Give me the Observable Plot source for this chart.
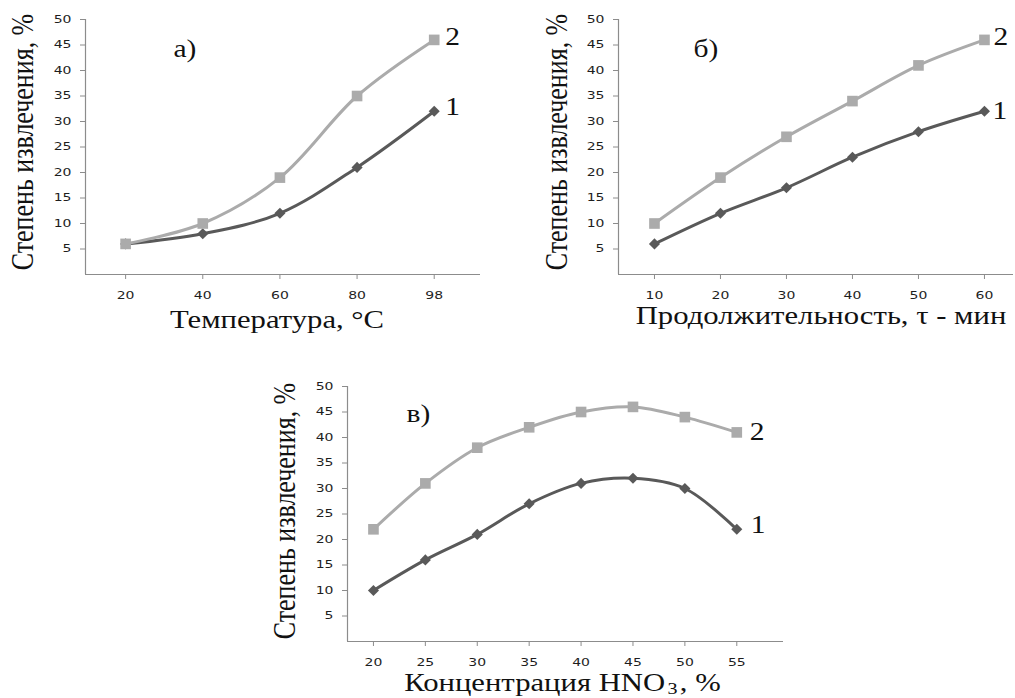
<!DOCTYPE html>
<html>
<head>
<meta charset="utf-8">
<script src="https://cdn.jsdelivr.net/npm/d3@7"></script>
<script src="https://cdn.jsdelivr.net/npm/@observablehq/plot@0.6"></script>
<style>
  html, body { margin: 0; padding: 0; background: #fff; }
  #wrap { position: relative; width: 1015px; height: 698px; overflow: hidden; background: #fff; }
  .panel { position: absolute; }
</style>
</head>
<body>
<div id="wrap">
  <div class="panel" id="pa" style="left:0px;top:0px"></div>
  <div class="panel" id="pb" style="left:500px;top:0px"></div>
  <div class="panel" id="pc" style="left:260px;top:370px"></div>
</div>
<script>
// ---- data ----
const tempCats = ["20", "40", "60", "80", "98"];
const tempS1 = [6, 8, 12, 21, 32];
const tempS2 = [6, 10, 19, 35, 46];

const timeCats = ["10", "20", "30", "40", "50", "60"];
const timeS1 = [6, 12, 17, 23, 28, 32];
const timeS2 = [10, 19, 27, 34, 41, 46];

const concCats = ["20", "25", "30", "35", "40", "45", "50", "55"];
const concS1 = [10, 16, 21, 27, 31, 32, 30, 22];
const concS2 = [22, 31, 38, 42, 45, 46, 44, 41];

const yTicks = [5, 10, 15, 20, 25, 30, 35, 40, 45, 50];
const seriesNames = ["1", "2"];
const panelLetters = ["а)", "б)", "в)"];
const yTitle = "Степень извлечения, %";
const xTitles = ["Температура, °С", "Продолжительность, τ - мин", "Концентрация HNO3, %"];

// ---- styles ----
const DARK = "#595959";
const LIGHT = "#ababab";
const AXIS = "#8c8c8c";
const SERIF = "Liberation Serif, Times New Roman, serif";
const SANS = "DejaVu Sans, Verdana, sans-serif";

function panel(cfg) {
  const rows = cfg.cats.map((c, i) => ({i, cat: c, s1: cfg.s1[i], s2: cfg.s2[i]}));
  const last = rows[rows.length - 1];
  const serifText = {fontFamily: SERIF, fill: "#111"};
  return Plot.plot({
    width: cfg.width,
    height: cfg.height,
    marginLeft: cfg.ml,
    marginRight: cfg.mr,
    marginTop: cfg.mt,
    marginBottom: cfg.mb,
    x: {type: "linear", domain: cfg.xDomain},
    y: {domain: [0, 50]},
    style: {background: "transparent", overflow: "visible", color: "#1e1e1e"},
    marks: [
      Plot.ruleY([0], {stroke: AXIS, strokeWidth: 1.2}),
      Plot.ruleX([cfg.xDomain[0]], {stroke: AXIS, strokeWidth: 1.2}),
      Plot.axisY({ticks: yTicks, tickSize: 5, tickPadding: 9, stroke: AXIS, fontSize: 10, fontFamily: SANS, label: null}),
      Plot.axisX({ticks: d3.range(cfg.cats.length), tickFormat: i => cfg.cats[i], tickSize: 5, tickPadding: 12,
                  stroke: AXIS, fontSize: 10, fontFamily: SANS, label: null}),
      Plot.line(rows, {x: "i", y: "s1", stroke: DARK, strokeWidth: 3, curve: "catmull-rom"}),
      Plot.dot(rows, {x: "i", y: "s1", symbol: "diamond2", r: 5, fill: DARK, stroke: null}),
      Plot.line(rows, {x: "i", y: "s2", stroke: LIGHT, strokeWidth: 3, curve: "catmull-rom"}),
      Plot.dot(rows, {x: "i", y: "s2", symbol: "square", r: 6, fill: LIGHT, stroke: null}),
      Plot.text([last], {x: "i", y: "s1", text: () => seriesNames[0], textAnchor: "start", lineAnchor: "middle",
                         dx: cfg.n1[0], dy: cfg.n1[1], fontSize: 25, ...serifText}),
      Plot.text([last], {x: "i", y: "s2", text: () => seriesNames[1], textAnchor: "start", lineAnchor: "middle",
                         dx: cfg.n2[0], dy: cfg.n2[1], fontSize: 25, ...serifText}),
      Plot.text([cfg.letter], {text: d => d, frameAnchor: "top-left", textAnchor: "start", lineAnchor: "middle",
                               dx: cfg.letterPos[0], dy: cfg.letterPos[1], fontSize: 25, ...serifText}),
      Plot.text([yTitle], {text: d => d, frameAnchor: "left", rotate: -90, textAnchor: "middle", lineAnchor: "middle",
                           dx: cfg.yTitlePos[0], dy: cfg.yTitlePos[1], fontSize: 26, ...serifText}),
      Plot.text([cfg.xTitle], {text: d => d, frameAnchor: "bottom", textAnchor: "middle", lineAnchor: "bottom",
                               dx: cfg.xTitlePos[0], dy: cfg.xTitlePos[1], fontSize: 26, ...serifText})
    ]
  });
}

document.getElementById("pa").appendChild(panel({
  cats: tempCats, s1: tempS1, s2: tempS2,
  width: 500, height: 340, ml: 85, mr: 20, mt: 19, mb: 66,
  xDomain: [-0.52, 4.6],
  n1: [11, -4], n2: [11, -3],
  letter: panelLetters[0], letterPos: [88, 29],
  yTitlePos: [-62, -5], xTitle: xTitles[0], xTitlePos: [-6, 53]
}));

document.getElementById("pb").appendChild(panel({
  cats: timeCats, s1: timeS1, s2: timeS2,
  width: 515, height: 340, ml: 118, mr: 2, mt: 19, mb: 66,
  xDomain: [-0.545, 5.44],
  n1: [8, 0], n2: [9, -3],
  letter: panelLetters[1], letterPos: [75, 29],
  yTitlePos: [-61, -5], xTitle: xTitles[1], xTitlePos: [5, 49]
}));

document.getElementById("pc").appendChild(panel({
  cats: concCats, s1: concS1, s2: concS2,
  width: 560, height: 328, ml: 87, mr: 37, mt: 16, mb: 57,
  xDomain: [-0.5, 7.9],
  n1: [14, -4], n2: [13, 0],
  letter: panelLetters[2], letterPos: [59, 27],
  yTitlePos: [-62, -3], xTitle: xTitles[2], xTitlePos: [-3, 49]
}));

// subscript in HNO3
document.querySelectorAll("svg text").forEach(t => {
  if (t.textContent === xTitles[2]) {
    const ns = "http://www.w3.org/2000/svg";
    t.textContent = "";
    const a = document.createElementNS(ns, "tspan"); a.textContent = "Концентрация HNO";
    const b = document.createElementNS(ns, "tspan"); b.textContent = "3";
    b.setAttribute("font-size", "17"); b.setAttribute("dy", "3"); b.setAttribute("dx", "2");
    const c = document.createElementNS(ns, "tspan"); c.textContent = ", %";
    c.setAttribute("dy", "-3"); c.setAttribute("dx", "2");
    t.appendChild(a); t.appendChild(b); t.appendChild(c);
  }
});

// horizontal stretch of glyphs, as in the reference picture
document.querySelectorAll("svg text").forEach(t => {
  const ff = getComputedStyle(t).fontFamily.toLowerCase();
  const serif = ff.includes("serif") && !ff.includes("sans");
  const s = serif ? 1.18 : 1.4;
  const tr = t.getAttribute("transform");
  if (tr) {
    if (tr.includes("rotate")) t.setAttribute("transform", tr + ` scale(1,${s})`);
    else t.setAttribute("transform", tr + ` scale(${s},1)`);
  } else {
    const len = t.getComputedTextLength();
    t.setAttribute("textLength", len * s);
    t.setAttribute("lengthAdjust", "spacingAndGlyphs");
  }
});
</script>
</body>
</html>
